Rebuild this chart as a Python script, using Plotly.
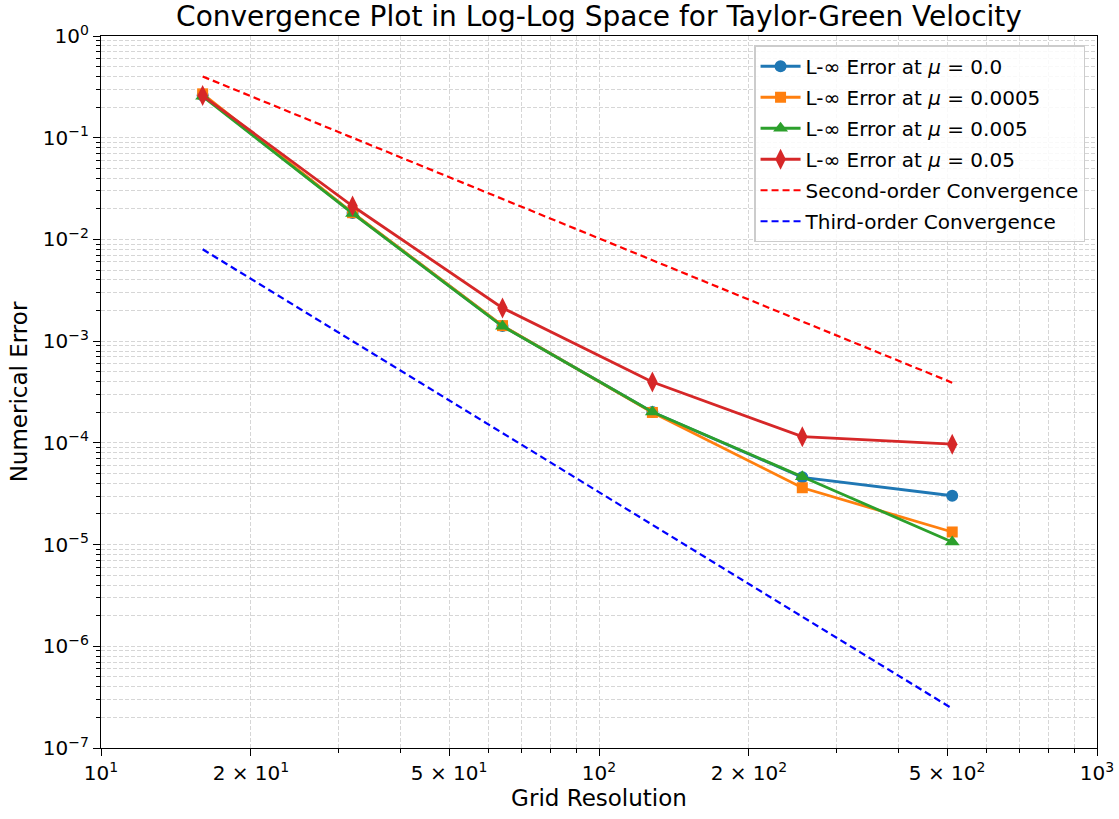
import plotly.graph_objects as go

grid_res = [16, 32, 64, 128, 256, 512]
err_mu_0 = [0.26, 0.0182, 0.00141, 0.000201, 4.58e-5, 3.02e-5]
err_mu_00005 = [0.27, 0.0183, 0.00142, 0.000199, 3.62e-5, 1.33e-5]
err_mu_0005 = [0.255, 0.0180, 0.00140, 0.000201, 4.64e-5, 1.06e-5]
err_mu_005 = [0.26, 0.0213, 0.00212, 0.000396, 1.15e-4, 9.7e-5]
second_order = [0.4, 0.1, 0.025, 0.00625, 0.0015625, 0.000390625]
third_order = [0.008, 0.001, 0.000125, 1.5625e-5, 1.953125e-6, 2.44140625e-7]

x_tickvals = [10, 20, 50, 100, 200, 500, 1000]
x_ticktext = ["10<sup>1</sup>", "2 × 10<sup>1</sup>", "5 × 10<sup>1</sup>", "10<sup>2</sup>",
              "2 × 10<sup>2</sup>", "5 × 10<sup>2</sup>", "10<sup>3</sup>"]
y_tickvals = [1e-7, 1e-6, 1e-5, 1e-4, 1e-3, 1e-2, 1e-1, 1]
y_ticktext = ["10<sup>−7</sup>", "10<sup>−6</sup>", "10<sup>−5</sup>", "10<sup>−4</sup>",
              "10<sup>−3</sup>", "10<sup>−2</sup>", "10<sup>−1</sup>", "10<sup>0</sup>"]

x_minor = [m * 10 ** e for e in (1, 2) for m in range(2, 10)]
y_minor = [m * 10.0 ** e for e in range(-7, 0) for m in range(2, 10)]

series = [
    ("L-∞ Error at <i>μ</i> = 0.0", err_mu_0, "#1f77b4", "circle", 12),
    ("L-∞ Error at <i>μ</i> = 0.0005", err_mu_00005, "#ff7f0e", "square", 11),
    ("L-∞ Error at <i>μ</i> = 0.005", err_mu_0005, "#2ca02c", "triangle-up", 13),
    ("L-∞ Error at <i>μ</i> = 0.05", err_mu_005, "#d62728", "diamond-tall", 15),
]

fig = go.Figure()
for i, (name, vals, color, sym, size) in enumerate(series):
    fig.add_trace(go.Scatter(
        x=grid_res, y=vals, mode="lines+markers", name=name, legendgroup=f"g{i}",
        line=dict(color=color, width=2.8),
        marker=dict(symbol=sym, size=size, color=color, line=dict(width=0)),
    ))
fig.add_trace(go.Scatter(x=grid_res, y=second_order, mode="lines", name="Second-order Convergence",
                         legendgroup="g4", line=dict(color="#ff0000", width=2.2, dash="7px,4px")))
fig.add_trace(go.Scatter(x=grid_res, y=third_order, mode="lines", name="Third-order Convergence",
                         legendgroup="g5", line=dict(color="#0000ff", width=2.2, dash="7px,4px")))

font_family = "DejaVu Sans"
grid_color = "#d6d6d6"
axis_common = dict(
    type="log", showline=True, mirror=True, linecolor="black", linewidth=1.4,
    ticks="outside", ticklen=7, tickwidth=1.4, tickcolor="black", automargin=False,
    showgrid=True, gridcolor=grid_color, gridwidth=1, griddash="4px,2px",
    zeroline=False, tickfont=dict(family=font_family, size=20, color="black"),
)
minor_common = dict(tickmode="array", ticks="outside", ticklen=4, tickwidth=1.1,
                    tickcolor="black", showgrid=True, gridcolor=grid_color,
                    griddash="4px,2px", gridwidth=1)

fig.update_layout(
    width=1119, height=819,
    margin=dict(l=101, r=22, t=36, b=71, autoexpand=False),
    paper_bgcolor="white", plot_bgcolor="white",
    font=dict(family=font_family, color="black"),
    title=dict(text="Convergence Plot in Log-Log Space for Taylor-Green Velocity",
               x=0.5, xref="paper", xanchor="center", y=1 - 16 / 819, yref="container",
               yanchor="middle", font=dict(size=28, family=font_family, color="black")),
    xaxis=dict(
        **axis_common, range=[1, 3], tickmode="array", tickvals=x_tickvals, ticktext=x_ticktext,
        title=dict(text="Grid Resolution", font=dict(size=23, family=font_family), standoff=4),
        minor=dict(**minor_common, tickvals=x_minor),
    ),
    yaxis=dict(
        **axis_common, range=[-7, 0], tickmode="array", tickvals=y_tickvals, ticktext=y_ticktext,
        title=dict(text="Numerical Error", font=dict(size=23, family=font_family), standoff=8),
        minor=dict(**minor_common, tickvals=y_minor),
    ),
    legend=dict(x=0.988, y=0.987, xanchor="right", yanchor="top",
                bgcolor="rgba(255,255,255,0.85)", bordercolor="#cccccc", borderwidth=1.5,
                font=dict(size=20, family=font_family, color="black"),
                itemwidth=40, tracegroupgap=2),
)

fig.write_html("out.html")
